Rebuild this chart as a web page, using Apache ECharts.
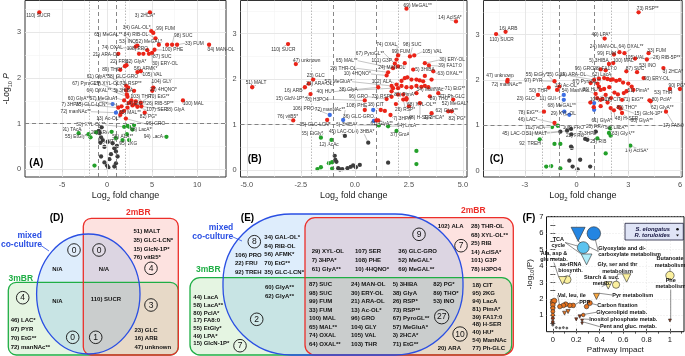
<!DOCTYPE html>
<html>
<head>
<meta charset="utf-8">
<script src="https://cdn.jsdelivr.net/npm/echarts@6.0.0/dist/echarts.min.js"></script>
<style>
  html, body { margin: 0; padding: 0; background: #fff; }
  #chart { width: 685px; height: 356px; }
</style>
</head>
<body>
<div id="chart"></div>
<script>
const FONT = '"Liberation Sans", Arial, Helvetica, sans-serif'

// ---------- (A) 3mBR volcano: [label, log2 fold change, -log10 P]
const A_red = [
  ['110) SUCR', -7.51, 3.44], ['3) 2HCA*', 4.76, 3.44], ['34) GAL-OL*', 4.91, 3.03], ['99) FUM', 5.13, 2.99],
  ['84) RIB-OL', 5.38, 2.87], ['65) MeGAL**', 3.37, 2.71], ['98) SUC', 7.22, 2.73], ['53) INO', 3.19, 2.69],
  ['52) MeGAL*', 5.75, 2.73], ['33) FUM', 7.77, 2.73], ['', 6.67, 2.73], ['74) OXAL', 4.47, 2.61],
  ['108) PRO', 4.03, 2.53], ['100) PHE', 5.27, 2.62], ['34) MAN-OL', 11.32, 2.73], ['21) ARA-OL', 1.25, 2.53],
  ['87) SUC', 4.65, 2.53], ['', 3.55, 2.53], ['22) FRU', 2.16, 2.28], ['62) GlyA*', 1.98, 2.26],
  ['30) ERY-OL', 5.0, 2.55], ['56) AFMK*', 3.37, 2.13], ['89) THO*', 1.47, 2.18], ['105) VAL', 3.74, 2.15],
  ['61) GlyA**', 2.12, 1.83], ['38) GLC-GRO', 2.34, 1.79], ['67) PyroGL**', 2.2, 1.64], ['29) XYL-OL', 2.12, 1.73],
  ['73) RSP**', 3.0, 1.72], ['104) GLY', 5.13, 1.79], ['10) 4HQNO*', 5.02, 1.72], ['64) OXAL**', 2.27, 1.59],
  ['5) 3HIBA', 2.71, 1.51], ['103) THR', 3.19, 1.49], ['70) EtG**', 3.74, 1.46], ['60) GlyA**', 1.61, 1.38],
  ['57) MeGluA*', 1.9, 1.51], ['7) 3HPA*', 1.25, 1.35], ['14) EtG**', 2.82, 1.40], ['26) RIB-5P**', 3.08, 1.43],
  ['100) MAL', 8.42, 1.51], ['65) MAL**', 2.27, 1.35], ['107) SER', 3.37, 1.37], ['38) GlyA', 3.81, 1.38],
  ['82) PG*', 4.18, 1.24], ['13) Ac-OL*', 1.47, 1.19], ['96) GRO', 2.09, 1.11],
  ['', 2.6, 1.47], ['', 1.9, 1.28], ['', 1.6, 1.25], ['', 2.4, 1.45]
]
const A_blue = [['35) GLC-LCN*', 0.62, 1.43], ['72) manNAc**', 0.99, 1.24]]
const A_green = [
  ['91) TAcA', -3.15, 0.79], ['55) EtGly*', -2.05, 0.77], ['', -1.83, 0.70], ['', -1.21, 0.81],
  ['36) XYL-OL**', 1.9, 0.93], ['20) ARA', 0.51, 0.82], ['68) LacA**', 2.82, 0.87], ['58) ALA**', 2.2, 0.77],
  ['94) LacA', 6.59, 0.71], ['95) 2KG', 1.72, 0.64], ['18) CIT', 0.99, 0.68], ['', 2.27, 0.95],
  ['', 2.45, 0.93], ['', 3.0, 0.97], ['', 2.45, 0.64], ['', -1.39, 0.08]
]
const A_grey = [
  ['', -0.84, 0.79], ['', -0.66, 0.70], ['', -0.48, 0.64], ['', -0.73, 0.58], ['', 0.07, 0.60], ['', -0.29, 0.49],
  ['', 0.62, 0.57], ['', 0.81, 0.46], ['', 1.1, 0.51], ['', 0.99, 0.39], ['', 0.44, 0.33], ['', -0.66, 0.28],
  ['', 0.26, 0.22], ['', -0.29, 0.15], ['', 0, 0.08], ['', 0.15, 0.04], ['', 0.81, 0.06], ['', 0.99, 0.13],
  ['', 1.17, 0.28], ['', -0.92, 0.84], ['', -0.59, 0.92]
]

// ---------- (B) 2mBR volcano
const B_red = [
  ['69) MeGAL**', 2.39, 3.55], ['14) AcISA*', 4.68, 3.27], ['110) SUCR', -3.09, 2.77], ['47) unknown', -2.73, 2.33],
  ['51) MALT', -4.75, 1.82], ['23) GLC', -1.93, 1.99], ['21) ARA-OL', -2.13, 1.90], ['16) ARB', -2.31, 1.82],
  ['15) GlcN-1P*', -2.05, 1.67], ['76) vitB5*', -2.85, 1.09], ['35) GLC-LCN*', -1.28, 1.10], ['78) H3PO4', 0.46, 1.53],
  ['40) HU*', 1.08, 1.82], ['108) PHE', 0.46, 1.32], ['18) CIT', 1.2, 1.32], ['36) GLC-GRO', 1.0, 1.09],
  ['74) OXAL', 1.93, 2.43], ['98) SUC', 2.55, 2.50], ['67) PyroGL**', 1.85, 2.34], ['99) FUM', 2.0, 2.52],
  ['105) VAL', 2.75, 2.52], ['65) MAL**', 1.77, 2.24], ['101) G3P', 2.0, 2.28], ['30) ERY-OL', 3.24, 2.35],
  ['39) FA17:0', 3.43, 2.30], ['28) THR-OL', 1.54, 2.15], ['10) 4HQNO*', 1.47, 2.08], ['5) 3HIBA', 2.70, 2.21],
  ['24) MAN-OL', 2.31, 2.35], ['63) OXAL**', 3.63, 2.17], ['57) MeGluA*', 1.70, 1.85], ['102) ALA', 1.93, 1.88],
  ['71) EtG**', 3.40, 1.82], ['38) GlyA', 1.77, 1.80], ['96) GRO', 1.47, 1.56], ['73) RSP*', 1.70, 1.73],
  ['81) PimA*', 2.0, 1.66], ['54) ManNAc', 2.85, 1.69], ['68) XYL-OL**', 2.39, 1.55], ['89) THO*', 3.47, 1.62],
  ['52) MeGAL*', 4.55, 1.55], ['26) RSP*', 2.24, 1.55], ['48) H-SER', 3.01, 1.47], ['7) 3HPA*', 1.65, 1.21],
  ['3) 2HCA*', 3.55, 1.25], ['62) GlyA**', 4.32, 1.29], ['82) PG*', 4.48, 1.29], ['77) Ph-GLC', 3.86, 1.69],
  ['61) GlyA**', 1.08, 1.09],
  ['', 2.31, 2.02], ['', 2.43, 2.04], ['', 2.62, 1.99], ['', 2.85, 1.99], ['', 3.0, 1.97], ['', 3.16, 1.95],
  ['', 3.55, 1.99], ['', 2.0, 1.80], ['', 2.16, 1.85], ['', 2.39, 1.82], ['', 2.62, 1.82], ['', 2.85, 1.85],
  ['', 3.08, 1.83], ['', 3.24, 1.85], ['', 1.70, 1.61], ['', 2.24, 1.66], ['', 2.39, 1.58], ['', 3.24, 2.07],
  ['', 2.16, 1.96], ['', 1.39, 1.30], ['', 2.5, 1.4], ['', 1.9, 1.45]
]
const B_blue = [['106) PRO', -1.16, 1.21], ['72) manNAc**', -0.54, 1.10], ['', 0.85, 1.32], ['', 0.88, 1.08]]
const B_green = [
  ['55) EtGly*', -1.57, 0.71], ['12) AcAc', -1.08, 0.66], ['94) LacA', 1.54, 0.96], ['37) GroA', 1.93, 0.86],
  ['6) 3HIBA*', 1.11, 0.98], ['', 2.85, 0.42], ['', 2.85, 0.13], ['', -1.73, 0.02], ['', -1.57, 0.06],
  ['', -1.2, 0.15], ['', -1.05, 0.17], ['', -1.05, 0.03]
]
const B_grey = [
  ['45) LAC-OL', -0.46, 0.75], ['4) 3HBA*', 0.62, 0.60], ['', 1.54, 0.16], ['', -0.93, 0.31], ['', -0.85, 0.18],
  ['', -0.77, 0.04], ['', -0.69, 0.01], ['', -0.58, 0.02], ['', -0.34, 0.04], ['', -0.19, 0.07], ['', -0.08, 0.10],
  ['', 0.05, 0.06], ['', 0.23, 0.11], ['', -0.9, 0.22]
]

// ---------- (C) mixed co-culture volcano
const C_red = [
  ['73) RSP**', 3.60, 3.49], ['16) ARB', -4.12, 3.06], ['110) SUCR', -4.67, 3.01], ['49) LPA*', 1.63, 2.91],
  ['33) FUM', 4.18, 2.59], ['24) MAN-OL', 2.49, 2.61], ['64) OXAL**', 2.78, 2.59], ['99) FUM', 2.17, 2.56],
  ['105) VAL', 3.4, 2.47], ['26) RIB-5P**', 4.08, 2.45], ['5) 3HIBA', 1.88, 2.35], ['100) MAL', 2.13, 2.37],
  ['53) INO', 3.51, 2.17], ['96) GRO', 1.40, 2.23], ['28) FA17:0', 1.69, 2.21], ['87) SUC', 2.89, 2.19],
  ['3) 2HCA*', 5.04, 2.26], ['47) unknown', -4.0, 2.0], ['72) manNAc**', -4.02, 1.96], ['55) EtGly*', -1.0, 1.85],
  ['35) GlyA', 1.02, 2.0], ['21) ARA-OL', 1.3, 2.03], ['62) LacA', 1.98, 2.0], ['97) PYR', -1.28, 1.97],
  ['93) ERY-OL', 3.89, 2.04], ['67) PyroGL**', 1.21, 1.92], ['50) THR', -1.61, 1.83], ['12) Ac-OL*', -1.13, 1.78],
  ['23) GLC', -2.24, 1.67], ['86) HU*', 1.40, 1.78], ['54) ManNAc', 1.11, 1.69], ['90) PG*', 6.0, 1.80],
  ['53) THR', 5.42, 1.80], ['51) PimA*', 2.74, 1.71], ['104) GLY', 1.69, 1.67], ['18) CIT', 1.40, 1.56],
  ['71) EtG**', 2.64, 1.56], ['80) PclA*', 4.23, 1.55], ['62) GlyA**', 4.3, 1.53], ['17) FA8:0', 5.19, 1.30],
  ['89) THO*', 2.45, 1.40], ['15) GlcN-1P*', 2.55, 1.37], ['61) GlyA*', 1.98, 1.38], ['48) H-SER', 2.17, 1.33],
  ['60) GlyA**', 2.64, 1.27], ['78) EtG**', -1.89, 1.30], ['46) LAC*', -1.28, 1.05],
  ['', 0.82, 1.93], ['', 1.6, 2.04], ['', 1.8, 2.02], ['', 2.1, 2.01], ['', 2.3, 1.98], ['', 2.5, 2.0],
  ['', 2.7, 1.94], ['', 3.0, 1.92], ['', 3.2, 1.85], ['', 1.3, 1.85], ['', 1.6, 1.8], ['', 1.9, 1.84],
  ['', 2.2, 1.72], ['', 2.4, 1.68], ['', 2.0, 1.6], ['', 1.2, 1.6], ['', 1.5, 1.58], ['', 1.8, 1.5],
  ['', 2.9, 1.75], ['', 3.3, 1.78], ['', 0.8, 1.5], ['', 1.0, 1.4], ['', 1.4, 1.42]
]
const C_blue = [
  ['11) GUI', -0.74, 1.67], ['68) MeGAL**', -0.74, 1.56], ['29) XYL-OL', -0.42, 1.23], ['', -0.71, 1.30],
  ['', 1.02, 1.49], ['', 1.02, 1.34]
]
const C_green = [
  ['102) ALA', -1.42, 0.96], ['', -1.09, 0.99], ['92) TREH', -2.14, 0.69], ['', -1.28, 0.59], ['', -0.94, 0.59],
  ['14) AcISA*', 3.12, 0.55], ['', 1.69, 0.38], ['25) RIB', 1.21, 0.71], ['63) GlyA**', 1.88, 0.83],
  ['', 1.98, 0.77], ['', -1.76, 0.09], ['', -1.47, 0.10], ['', -0.94, 0.05], ['58) LacA**', 1.95, 0.93]
]
const C_grey = [
  ['45) LAC-OL', -0.94, 0.86], ['51) MALT', -0.55, 0.88], ['22) FRU', -0.3, 0.8], ['7) 3HPA*', 0.63, 0.68],
  ['20) ARA', 1.11, 0.86], ['108) PRO', -0.32, 0.92], ['', -0.32, 0.53], ['', -0.28, 0.50], ['', -0.42, 0.22],
  ['', -0.23, 0.09], ['', 0.06, 0.03], ['', 0.21, 0.24], ['', 0.79, 0.09], ['', 0.5, 0.7]
]

// ---------- (D) Venn, mixed co-culture / 2mBR / 3mBR
const D_blue = [], D_blueRed = [], D_blueGreen = []
const D_red = ['51) MALT', '35) GLC-LCN*', '15) GlcN-1P*', '76) vitB5*']
const D_green = ['46) LAC*', '97) PYR', '70) EtG**', '72) manNAc**']
const D_redGreen = ['23) GLC', '16) ARB', '47) unknown']
const D_all = ['110) SUCR']

// ---------- (E) Venn
const E_blue = ['106) PRO', '22) FRU', '92) TREH', '34) GAL-OL*', '84) RIB-OL', '56) AFMK*', '70) EtG**', '35) GLC-LCN*']
const E_blueRed = ['29) XYL-OL', '7) 3HPA*', '61) GlyA**', '107) SER', '108) PHE', '10) 4HQNO*', '36) GLC-GRO', '52) MeGAL*', '69) MeGAL**']
const E_red = ['102) ALA', '28) THR-OL', '68) XYL-OL**', '25) RIB', '14) AcISA*', '101) G3P', '78) H3PO4']
const E_blueGreen = ['60) GlyA**', '62) GlyA**']
const E_green = ['44) LacA', '58) LacA**', '80) PclA*', '17) FA8:0', '55) EtGly*', '49) LPA*', '15) GlcN-1P*']
const E_all = ['87) SUC', '98) SUC', '99) FUM', '33) FUM', '100) MAL', '65) MAL**', '74) OXAL', '64) OXAL**',
  '24) MAN-OL', '30) ERY-OL', '21) ARA-OL', '13) Ac-OL*', '96) GRO', '104) GLY', '105) VAL', '103) THR',
  '5) 3HIBA', '38) GlyA', '26) RSP*', '73) RSP**', '67) PyroGL**', '57) MeGluA*', '3) 2HCA*', '71) EtG**',
  '82) PG*', '89) THO*', '53) INO']
const E_redGreen = ['18) CIT', '95) 2KG', '94) LacA', '81) PimA*', '39) FA17:0', '48) H-SER', '40) HU*', '54) ManNAc', '77) Ph-GLC', '20) ARA']

// ---------- (F) pathway analysis: [impact, -log10 P, label]
const F_elongatus = [
  [0.35, 5.98, 'Glyoxylate and di-\ncarboxylate metabolism'], [0.26, 5.12, 'TCA\ncycle'],
  [0.122, 3.17, 'aa-tRNA\nbiosynth.'], [0.54, 2.86, 'Gly, ser and thr\nmetabolism'],
  [1.0, 3.42, 'Butanoate\nmetabolism'], [0.316, 1.74, 'Carbon fixation'], [0.174, 1.6, 'PPP'],
  [0.145, 1.6, ''], [0.11, 1.67, ''], [0.09, 1.6, ''], [0.06, 1.53, 'Val, leu, ile'], [0.26, 1.02, ''],
  [0.288, 1.53, ''], [0.0, 1.8, ''], [0.012, 1.88, ''], [0.0, 1.63, ''], [0.0, 1.43, ''], [0.0, 1.23, ''],
  [0.0, 1.02, ''], [0.0, 0.82, ''], [0.0, 0.61, ''], [0.0, 0.41, ''],
  [0.03, 0.25, ''], [0.06, 0.22, ''], [0.09, 0.25, ''], [0.12, 0.22, '']
]
const F_toruloides = [
  [0.216, 5.93, 'Glyoxylate and di-\ncarboxylate metabolism'], [0.288, 4.4, 'TCA\ncycle'],
  [0.083, 3.11, 'Ala, asp &\nglu metab.'], [0.473, 2.82, 'Starch & suc.\nmetab.'],
  [0.63, 3.27, 'Gly, ser and thr\nmetabolism'], [0.373, 2.15, 'Pyr metabolism'],
  [1.0, 0.68, 'Phe\nmetabolism'], [0.23, 0.92, 'Glycerolipid metab.'],
  [0.25, 0.68, 'Inositol phosphate metab.'], [0.25, 0.51, 'Pent and gluc. metab.'],
  [0.13, 1.23, ''], [0.1, 1.13, ''], [0.0, 0.5, ''], [0.2, 0.75, '']
]

// ---------- label placement (canvas px, label centre)
const A_pos = {
  '110) SUCR': [38.3, 15.7], '3) 2HCA*': [145, 15.7], '34) GAL-OL*': [136.7, 27.7], '99) FUM': [165.7, 29],
  '84) RIB-OL': [136, 34.3], '65) MeGAL**': [108.3, 34.3], '98) SUC': [183.3, 35.7], '53) INO': [127.7, 41.3],
  '52) MeGAL*': [149, 41.3], '33) FUM': [194.3, 43.3], '74) OXAL': [112.3, 47.7], '108) PRO': [137.3, 49],
  '100) PHE': [172.7, 50], '34) MAN-OL': [221, 50], '21) ARA-OL': [106, 54.3], '87) SUC': [162.3, 56.7],
  '22) FRU': [119.3, 61.7], '62) GlyA*': [136, 61.7], '30) ERY-OL': [165, 63.3], '56) AFMK*': [145.7, 68.3],
  '89) THO*': [112.3, 70], '105) VAL': [152.3, 75], '61) GlyA**': [98, 76.7], '38) GLC-GRO': [122.7, 76.7],
  '104) GLY': [161.7, 81.7], '67) PyroGL**': [86.3, 84], '29) XYL-OL': [106.7, 84], '73) RSP**': [130.7, 84],
  '10) 4HQNO*': [163.3, 89.3], '64) OXAL**': [99, 90.7], '5) 3HIBA': [123.3, 90.7], '103) THR': [141, 96.7],
  '70) EtG**': [159.3, 96.7], '60) GlyA**': [79, 98.3], '57) MeGluA*': [103.3, 98.3], '7) 3HPA*': [71.3, 104.3],
  '35) GLC-LCN*': [91.7, 104.3], '14) EtG**': [136, 104], '26) RIB-5P**': [160, 104], '100) MAL': [193.3, 104],
  '72) manNAc**': [75.7, 111.7], '65) MAL**': [130, 112.3], '107) SER': [156.7, 110], '38) GlyA': [175, 110],
  '82) PG*': [148.3, 116.7], '13) Ac-OL*': [108.3, 118.3], '96) GRO': [155.7, 124], '91) TAcA': [71.7, 129.3],
  '55) EtGly*': [76, 136.7], '36) XYL-OL**': [90.7, 125], '20) ARA': [100, 132.3], '68) LacA**': [141.7, 130],
  '58) ALA**': [122.7, 136.7], '94) LacA': [153.3, 136.7], '95) 2KG': [128.3, 144], '18) CIT': [106, 141.7]
}
const B_pos = {
  '69) MeGAL**': [417.7, 5.3], '14) AcISA*': [450, 17.3], '110) SUCR': [283.3, 49.3], '47) unknown': [306.7, 60.7],
  '51) MALT': [256, 82.7], '23) GLC': [315.7, 76], '21) ARA-OL': [319.3, 84], '16) ARB': [293.3, 90.7],
  '15) GlcN-1P*': [290, 98.3], '76) vitB5*': [287.7, 116.7], '35) GLC-LCN*': [315, 125], '78) H3PO4': [316.7, 99.3],
  '40) HU*': [325, 91.7], '108) PHE': [356.7, 105.7], '18) CIT': [375.7, 105], '36) GLC-GRO': [358.3, 116.7],
  '74) OXAL': [386.7, 45], '98) SUC': [412.3, 45], '67) PyroGL**': [370, 53.3], '99) FUM': [401, 51.7],
  '105) VAL': [432.3, 51.7], '65) MAL**': [346.7, 60.7], '101) G3P': [381.7, 60.7], '30) ERY-OL': [452, 60],
  '39) FA17:0': [450, 66], '28) THR-OL': [343.3, 68.3], '10) 4HQNO*': [357.3, 74], '5) 3HIBA': [425, 70],
  '24) MAN-OL': [391.7, 67.7], '63) OXAL**': [450, 74], '57) MeGluA*': [338.3, 81.7], '102) ALA': [381.7, 81.7],
  '71) EtG**': [455, 88.3], '38) GlyA': [348.3, 90], '96) GRO': [358.3, 96.7], '73) RSP*': [381.7, 96.7],
  '81) PimA*': [405, 95], '54) ManNAc': [430, 90], '68) XYL-OL**': [421.7, 104.3], '89) THO*': [440, 98.3],
  '52) MeGAL*': [455, 104], '26) RSP*': [405, 110], '48) H-SER': [420, 117.3], '7) 3HPA*': [403, 118.3],
  '3) 2HCA*': [434, 117.3], '62) GlyA**': [446.7, 111], '82) PG*': [457, 118.3], '77) Ph-GLC': [452, 96.7],
  '61) GlyA**': [381.7, 123.3], '106) PRO': [303.3, 108.3], '72) manNAc**': [330, 110], '55) EtGly*': [312.3, 133.3],
  '12) AcAc': [329, 145], '94) LacA': [406.7, 126], '37) GroA': [400, 135], '4) 3HBA*': [364.3, 131.7],
  '45) LAC-OL': [341.7, 131.7], '6) 3HIBA*': [346.7, 125]
}
const C_pos = {
  '73) RSP**': [647.7, 8.3], '16) ARB': [508.3, 28.3], '110) SUCR': [501.7, 39.3], '49) LPA*': [601, 34.3],
  '33) FUM': [656.7, 51], '24) MAN-OL': [603.3, 46.7], '64) OXAL**': [631, 46.7], '99) FUM': [606.7, 54],
  '105) VAL': [635, 57.3], '26) RIB-5P**': [666.7, 57.3], '5) 3HIBA': [599, 61], '100) MAL': [623.3, 61],
  '53) INO': [647.7, 66], '96) GRO': [584.3, 68.3], '28) FA17:0': [605, 68.3], '87) SUC': [635, 68.3],
  '3) 2HCA*': [673, 71.7], '47) unknown': [500, 76], '72) manNAc**': [506.7, 84.3], '55) EtGly*': [536.7, 75],
  '35) GlyA': [556, 75], '21) ARA-OL': [573, 75], '62) LacA': [601.7, 75], '97) PYR': [533.3, 81],
  '93) ERY-OL': [656.7, 78.3], '67) PyroGL**': [586.7, 81.7], '50) THR': [538.3, 90.7], '12) Ac-OL*': [566.7, 85.7],
  '23) GLC': [525.7, 99], '86) HU*': [591, 89.3], '54) ManNAc': [575, 91], '90) PG*': [677, 86],
  '53) THR': [663.3, 92.7], '51) PimA*': [638.3, 91], '104) GLY': [600, 99.3], '18) CIT': [613, 100],
  '71) EtG**': [633.3, 100], '80) PclA*': [661.7, 99.3], '62) GlyA**': [662.3, 107.3], '17) FA8:0': [673.3, 126],
  '89) THO*': [626.7, 107.7], '15) GlcN-1P*': [648.3, 113.3], '61) GlyA*': [601.7, 120.7], '48) H-SER': [626.7, 119],
  '60) GlyA**': [641.7, 120.7], '78) EtG**': [528.3, 112.3], '46) LAC*': [527.7, 119.3], '11) GUI': [547.7, 99],
  '68) MeGAL**': [561.7, 106], '29) XYL-OL': [563.3, 113.3], '102) ALA': [535, 127.3], '92) TREH': [530, 144],
  '14) AcISA*': [636.7, 150.7], '25) RIB': [598.3, 141.7], '63) GlyA**': [623.3, 134], '45) LAC-OL': [515, 133.3],
  '51) MALT': [536.7, 133.3], '22) FRU': [575, 136], '7) 3HPA*': [588.3, 133.3], '20) ARA': [595, 126.7],
  '58) LacA**': [616.7, 127.7], '108) PRO': [573.3, 127.7]
}
const F_pos = {
  'Glyoxylate and di-\ncarboxylate metabolism': [598.3, 251.5, 'left'], 'TCA\ncycle': [558.3, 242.5],
  'Ala, asp &\nglu metab.': [554, 256.5], 'aa-tRNA\nbiosynth.': [570.5, 267.5],
  'Gly, ser and thr\nmetabolism': [617.5, 268], 'Starch & suc.\nmetab.': [601.7, 280.5],
  'Butanoate\nmetabolism': [670, 262], 'Phe\nmetabolism': [670.7, 283.5], 'Pyr metabolism': [632.7, 295],
  'Val, leu, ile': [571.7, 295], 'PPP': [584.7, 302.3], 'Carbon fixation': [617.5, 305],
  'Glycerolipid metab.': [621.7, 312.3], 'Inositol phosphate metab.': [623.3, 319.3],
  'Pent and gluc. metab.': [628.3, 326.7]
}

const placeAt = pos => p => {
  const q = pos[p.text]
  return q ? { x: q[0], y: q[1], align: q[2] || 'center', verticalAlign: 'middle', hideOverlap: false } : {}
}

function volcanoSeries(i, pts, color, pos, z) {
  return {
    type: 'scatter', xAxisIndex: i, yAxisIndex: i, z, silent: true,
    symbolSize: 4.3,
    itemStyle: { color, opacity: 1 },
    data: pts.map(p => ({ name: p[0], value: [p[1], p[2]] })),
    label: { show: true, position: 'inside', formatter: p => p.name, fontSize: 4.8, color: '#333', fontFamily: FONT },
    labelLine: { show: true, lineStyle: { color: '#8a8a8a', width: 0.5 } },
    labelLayout: placeAt(pos)
  }
}

function guideSeries(i, major, minor, thresh) {
  const v = a => a.map(x => ({ xAxis: x }))
  const h = a => a.map(y => ({ yAxis: y }))
  const ml = (data, lineStyle) => ({
    type: 'scatter', xAxisIndex: i, yAxisIndex: i, data: [], silent: true, z: 1,
    markLine: { silent: true, symbol: ['none', 'none'], animation: false, label: { show: false }, lineStyle, data }
  })
  const out = [
    ml(v(minor[0]).concat(h(minor[1])), { color: '#f3f3f3', width: 0.6, type: 'solid' }),
    ml(v(major[0]).concat(h(major[1])), { color: '#e4e4e4', width: 0.9, type: 'solid' })
  ]
  if (thresh) {
    out.push(ml(v([-2, 2]), { color: '#a8a8a8', width: 0.8, type: [1.5, 1.5] }))
    out.push(ml(v([-1, 1]).concat(h([1])), { color: '#6a6a6a', width: 0.8, type: [4, 3] }))
  }
  return out
}

function xAxisV(i, min, max, ticks, fmt) {
  return {
    gridIndex: i, type: 'value', min, max,
    axisLine: { show: false }, splitLine: { show: false },
    axisTick: { show: true, customValues: ticks, length: 3, lineStyle: { color: '#333', width: 0.8 } },
    axisLabel: { customValues: ticks, fontSize: 7.4, color: '#4d4d4d', margin: 4, fontFamily: FONT, formatter: fmt },
    name: 'Log{s|2} fold change', nameLocation: 'middle', nameGap: 13,
    nameTextStyle: { fontSize: 9, color: '#222', fontFamily: FONT, lineHeight: 12,
      rich: { s: { fontSize: 6, lineHeight: 6, verticalAlign: 'bottom', fontFamily: FONT, color: '#222' } } }
  }
}
function yAxisV(i, min, max, named) {
  const ax = {
    gridIndex: i, type: 'value', min, max,
    axisLine: { show: false }, splitLine: { show: false },
    axisTick: { show: true, customValues: [0, 1, 2, 3], length: 3, lineStyle: { color: '#333', width: 0.8 } },
    axisLabel: { customValues: [0, 1, 2, 3], fontSize: 7.4, color: '#4d4d4d', margin: 4, fontFamily: FONT }
  }
  if (named) {
    Object.assign(ax, {
      name: '-Log{s|10} {i|P}', nameLocation: 'middle', nameGap: 11, nameRotate: 90,
      nameTextStyle: { fontSize: 8.5, color: '#222', fontFamily: FONT, lineHeight: 12,
        rich: { s: { fontSize: 5.5, lineHeight: 6, verticalAlign: 'bottom', color: '#222', fontFamily: FONT },
                i: { fontSize: 8.5, fontStyle: 'italic', color: '#222', fontFamily: FONT } } }
    })
  }
  return ax
}

function fColor(v) {
  if (v >= 5.5) return '#2385e2'
  if (v >= 4.9) return '#5cc3ef'
  if (v >= 4.0) return '#b0ecf8'
  if (v >= 2.6) return '#fbf09e'
  if (v >= 2.0) return '#f5a640'
  if (v >= 1.0) return '#e8731e'
  if (v >= 0.5) return '#9a3510'
  return '#8a8a8a'
}
const seNames = new Set(F_elongatus.map(p => p[2]).filter(s => s))
function pathwaySeries(pts, symbol, rotate, scale, dupHide) {
  return {
    type: 'scatter', xAxisIndex: 3, yAxisIndex: 3, z: 6, silent: true, symbol, symbolRotate: rotate,
    data: pts.map(p => {
      const d = { name: p[2], value: [p[0], p[1]], symbolSize: (1.5 + 2 * p[1]) * scale, itemStyle: { color: fColor(p[1]) } }
      if (dupHide && seNames.has(p[2])) d.label = { color: 'rgba(0,0,0,0)' }
      return d
    }),
    itemStyle: { borderColor: '#2a2a2a', borderWidth: 0.6, opacity: 1 },
    label: { show: true, position: 'inside', formatter: p => p.name, fontSize: 5.5, fontWeight: 'bold',
      color: '#111', fontFamily: FONT, lineHeight: 6.2 },
    labelLine: { show: true, lineStyle: { color: '#444', width: 0.6 } },
    labelLayout: placeAt(F_pos)
  }
}

// ---------- graphic helpers for the Venn panels and annotations
const G = []
const txt = (text, x, y, o) => ({ type: 'text', x, y, z: 100, silent: true,
  style: Object.assign({ text, fontFamily: FONT, fontSize: 6, fontWeight: 'bold', fill: '#111', align: 'left', verticalAlign: 'middle' }, o || {}) })
const block = (lines, x, y, lh) => txt(lines.join('\n'), x, y - lh / 2, { verticalAlign: 'top', lineHeight: lh })
const ring = (n, cx, cy, r) => {
  G.push({ type: 'circle', z: 99, silent: true, shape: { cx, cy, r: r || 6.3 }, style: { fill: 'rgba(255,255,255,0.15)', stroke: '#111', lineWidth: 0.9 } })
  G.push(txt(String(n), cx, cy + 0.4, { align: 'center', fontWeight: 'normal', fontSize: 8.5 }))
}
const RED = '#ec2f2a', GREEN = '#1fae45', BLUE = '#2a4fe3'
const FILL_R = 'rgba(240,60,50,0.15)', FILL_G = 'rgba(80,190,60,0.15)', FILL_B = 'rgba(60,150,240,0.17)'
function shape(type, shp, stroke, fill) {
  G.push({ type, z: 90, silent: true, shape: shp, style: { fill, stroke: 'none' } })
  return { type, z: 95, silent: true, shape: shp, style: { fill: 'none', stroke, lineWidth: 1.3 } }
}

// (D)
const dStrokes = [
  shape('rect', { x: 8.3, y: 282.3, width: 170, height: 72.7, r: 8 }, GREEN, FILL_G),
  shape('rect', { x: 83.3, y: 218.3, width: 95, height: 136.7, r: 8 }, RED, FILL_R),
  shape('ellipse', { cx: 88.3, cy: 294, rx: 51.7, ry: 60 }, BLUE, FILL_B)
]
G.push(...dStrokes)
G.push(txt('2mBR', 138.3, 212.7, { align: 'center', fontSize: 8.5, fill: RED }))
G.push(txt('3mBR', 20.8, 278.5, { align: 'center', fontSize: 8.5, fill: GREEN }))
G.push(txt('mixed\nco-culture', 42, 240.5, { align: 'right', fontSize: 8.5, fill: BLUE, lineHeight: 9.3 }))
G.push({ type: 'line', z: 95, silent: true, shape: { x1: 41, y1: 245.5, x2: 49, y2: 251 }, style: { stroke: BLUE, lineWidth: 0.8 } })
G.push(block(D_red, 133.5, 231.5, 8.7))
G.push(block(D_green, 10.7, 320.7, 8.9))
G.push(block(D_redGreen, 134.5, 330, 8.7))
G.push(block(D_all, 90.7, 299, 8.7))
const na = (arr, x, y) => { if (!arr.length) G.push(txt('N/A', x, y, { align: 'center' })) }
na(D_blue, 57.5, 269.3); na(D_blueRed, 104, 269.3); na(D_blueGreen, 57.5, 301)
ring(D_blue.length, 74, 250); ring(D_blueRed.length, 99, 250); ring(D_red.length, 151, 268.3)
ring(D_green.length, 22.7, 297.7); ring(D_redGreen.length, 151, 305); ring(D_blueGreen.length, 72.7, 337.3)
ring(D_all.length, 95.7, 337.3)

// (E)
const eStrokes = [
  shape('rect', { x: 190, y: 277.7, width: 321.7, height: 77.3, r: 10 }, GREEN, FILL_G),
  shape('rect', { x: 305, y: 217.7, width: 208.3, height: 137.3, r: 10 }, RED, FILL_R),
  shape('rect', { x: 223, y: 214, width: 240, height: 141, r: 68 }, BLUE, FILL_B)
]
G.push(...eStrokes)
G.push(txt('2mBR', 473.3, 210.5, { align: 'center', fontSize: 8.5, fill: RED }))
G.push(txt('3mBR', 208.3, 270, { align: 'center', fontSize: 8.5, fill: GREEN }))
G.push(txt('mixed\nco-culture', 233.3, 232.2, { align: 'right', fontSize: 8.5, fill: BLUE, lineHeight: 9.3 }))
G.push({ type: 'line', z: 95, silent: true, shape: { x1: 233, y1: 237, x2: 242, y2: 241 }, style: { stroke: BLUE, lineWidth: 0.8 } })
G.push(block(E_blue.slice(0, 3), 235, 255, 8.65))
G.push(block(E_blue.slice(3), 264.3, 237.3, 8.75))
G.push(block(E_blueRed.slice(0, 3), 311.7, 251.7, 8.65))
G.push(block(E_blueRed.slice(3, 6), 355, 251.7, 8.65))
G.push(block(E_blueRed.slice(6), 398.3, 251.7, 8.65))
G.push(block(E_red.slice(0, 1), 437.7, 226.7, 8.5))
G.push(block(E_red.slice(1), 471, 226.7, 8.5))
G.push(block(E_blueGreen, 265, 287.3, 8.7))
G.push(block(E_green, 193.3, 297.7, 7.65))
G.push(block(E_all.slice(0, 8), 309, 284.3, 8.57))
G.push(block(E_all.slice(8, 16), 351, 284.3, 8.57))
G.push(block(E_all.slice(16, 24), 392.7, 284.3, 8.57))
G.push(block(E_all.slice(24), 433.3, 284.3, 8.57))
G.push(block(E_redGreen.slice(0, 9), 472.3, 285.7, 7.8))
G.push(block(E_redGreen.slice(9), 437.7, 348.3, 8.7))
ring(E_blue.length, 254.3, 241.7); ring(E_blueRed.length, 419, 234.3); ring(E_red.length, 461, 245.7)
ring(E_blueGreen.length, 256.7, 319.3); ring(E_all.length, 441.7, 316.7, 7.2); ring(E_redGreen.length, 460, 334, 7.2)
ring(E_green.length, 240, 345.7)

// panel letters
const letter = (s, x, y) => G.push(txt(s, x, y, { align: 'center', fontSize: 10, fill: '#000' }))
letter('(A)', 36.3, 163.3); letter('(B)', 254.7, 159.5); letter('(C)', 496.7, 159.5)
letter('(D)', 56.7, 218.3); letter('(E)', 247.5, 218.3); letter('(F)', 529, 218.3)

// (F) legend box
G.push({ type: 'rect', z: 100, silent: true, shape: { x: 625, y: 223.3, width: 58.3, height: 16.7 }, style: { fill: '#dfe4f6', stroke: '#1d1d3a', lineWidth: 0.8 } })
G.push(txt('S. elongatus', 670, 229.3, { align: 'right', fontStyle: 'italic', fontSize: 5.8, fill: '#151540' }))
G.push(txt('R. toruloides', 670, 235.3, { align: 'right', fontStyle: 'italic', fontSize: 5.8, fill: '#151540' }))
G.push({ type: 'circle', z: 101, silent: true, shape: { cx: 677.5, cy: 229.3, r: 1.3 }, style: { fill: '#111' } })
G.push({ type: 'polygon', z: 101, silent: true, shape: { points: [[676, 234.4], [679, 234.4], [677.5, 236.6]] }, style: { fill: '#111' } })

// ---------- chart
const chart = echarts.init(document.getElementById('chart'), null, { renderer: 'canvas' })
const gridBase = { show: true, borderColor: '#333', borderWidth: 1, backgroundColor: 'transparent', containLabel: false }
const fmt1 = v => v.toFixed(1)

const fTicksX = [0, 0.2, 0.4, 0.6, 0.8, 1]
const fTicksY = [1, 2, 3, 4, 5, 6, 7]
const fMinorX = [0.1, 0.3, 0.5, 0.7, 0.9, 1.1]
const fMinorY = [0.5, 1.5, 2.5, 3.5, 4.5, 5.5, 6.5]

const option = {
  animation: false,
  backgroundColor: '#fff',
  textStyle: { fontFamily: FONT },
  grid: [
    Object.assign({ left: 23.5, top: 0.5, width: 202.5, height: 176.5 }, gridBase),
    Object.assign({ left: 240.5, top: 0.5, width: 226.5, height: 176.5 }, gridBase),
    Object.assign({ left: 483.5, top: 0.5, width: 200.5, height: 176.5 }, gridBase),
    Object.assign({ left: 546.5, top: 216.7, width: 137.5, height: 115 }, gridBase, { borderColor: '#111' })
  ],
  xAxis: [
    xAxisV(0, -9.1, 13.2, [-5, 0, 5, 10]),
    xAxisV(1, -5.29, 5.19, [-5, -2.5, 0, 2.5, 5], fmt1),
    xAxisV(2, -5.4, 6.13, [-3, 0, 3, 6]),
    {
      gridIndex: 3, type: 'value', min: -0.054, max: 1.12,
      axisLine: { show: false }, splitLine: { show: false },
      axisTick: { show: true, inside: true, customValues: fTicksX, length: 3, lineStyle: { color: '#111', width: 0.8 } },
      minorTick: { show: false },
      axisLabel: { customValues: fTicksX, fontSize: 7.6, color: '#111', margin: 4, fontFamily: FONT,
        formatter: v => (v === 0 || v === 1) ? String(v) : v.toFixed(1) },
      name: 'Pathway Impact', nameLocation: 'middle', nameGap: 14,
      nameTextStyle: { fontSize: 8, color: '#111', fontFamily: FONT }
    },
    {
      gridIndex: 3, type: 'value', min: -0.054, max: 1.12, position: 'top',
      axisLine: { show: false }, splitLine: { show: false }, axisLabel: { show: false },
      axisTick: { show: true, inside: true, customValues: fTicksX.concat(fMinorX), length: 2, lineStyle: { color: '#111', width: 0.7 } }
    }
  ],
  yAxis: [
    yAxisV(0, -0.17, 3.7, true),
    yAxisV(1, -0.155, 3.73),
    yAxisV(2, -0.14, 3.75),
    {
      gridIndex: 3, type: 'value', min: 0, max: 7,
      axisLine: { show: false }, splitLine: { show: false },
      axisTick: { show: true, inside: true, customValues: fTicksY.concat(fMinorY), length: 2.5, lineStyle: { color: '#111', width: 0.7 } },
      axisLabel: { customValues: fTicksY, fontSize: 7.6, color: '#111', margin: 3, fontFamily: FONT },
      name: '-log{s|10}(P)', nameLocation: 'middle', nameGap: 10, nameRotate: 90,
      nameTextStyle: { fontSize: 8, color: '#111', fontFamily: FONT, lineHeight: 11,
        rich: { s: { fontSize: 5.5, lineHeight: 6, verticalAlign: 'bottom', color: '#111', fontFamily: FONT } } }
    },
    {
      gridIndex: 3, type: 'value', min: 0, max: 7, position: 'right',
      axisLine: { show: false }, splitLine: { show: false }, axisLabel: { show: false },
      axisTick: { show: true, inside: true, customValues: fTicksY.concat(fMinorY), length: 2.5, lineStyle: { color: '#111', width: 0.7 } }
    }
  ],
  series: [
    ...guideSeries(0, [[-5, 0, 5, 10], [0, 1, 2, 3]], [[-7.5, -2.5, 2.5, 7.5, 12.5], [0.5, 1.5, 2.5, 3.5]], true),
    ...guideSeries(1, [[-5, -2.5, 0, 2.5, 5], [0, 1, 2, 3]], [[-3.75, -1.25, 1.25, 3.75], [0.5, 1.5, 2.5, 3.5]], true),
    ...guideSeries(2, [[-3, 0, 3, 6], [0, 1, 2, 3]], [[-4.5, -1.5, 1.5, 4.5], [0.5, 1.5, 2.5, 3.5]], true),
    {
      type: 'scatter', xAxisIndex: 3, yAxisIndex: 3, data: [], silent: true, z: 1,
      markLine: { silent: true, symbol: ['none', 'none'], animation: false, label: { show: false },
        lineStyle: { color: '#d9d9d9', width: 0.6, type: [1, 2] },
        data: fTicksX.map(x => ({ xAxis: x })).concat(fTicksY.map(y => ({ yAxis: y }))) }
    },
    volcanoSeries(0, A_grey, '#3d3d3d', A_pos, 3), volcanoSeries(0, A_green, '#23a02a', A_pos, 4),
    volcanoSeries(0, A_blue, '#3d6fe4', A_pos, 5), volcanoSeries(0, A_red, '#ea2418', A_pos, 6),
    volcanoSeries(1, B_grey, '#3d3d3d', B_pos, 3), volcanoSeries(1, B_green, '#23a02a', B_pos, 4),
    volcanoSeries(1, B_blue, '#3d6fe4', B_pos, 5), volcanoSeries(1, B_red, '#ea2418', B_pos, 6),
    volcanoSeries(2, C_grey, '#3d3d3d', C_pos, 3), volcanoSeries(2, C_green, '#23a02a', C_pos, 4),
    volcanoSeries(2, C_blue, '#3d6fe4', C_pos, 5), volcanoSeries(2, C_red, '#ea2418', C_pos, 6),
    pathwaySeries(F_elongatus, 'circle', 0, 1, false),
    pathwaySeries(F_toruloides, 'triangle', 180, 1.05, true)
  ],
  graphic: G
}
chart.setOption(option)
</script>
</body>
</html>
